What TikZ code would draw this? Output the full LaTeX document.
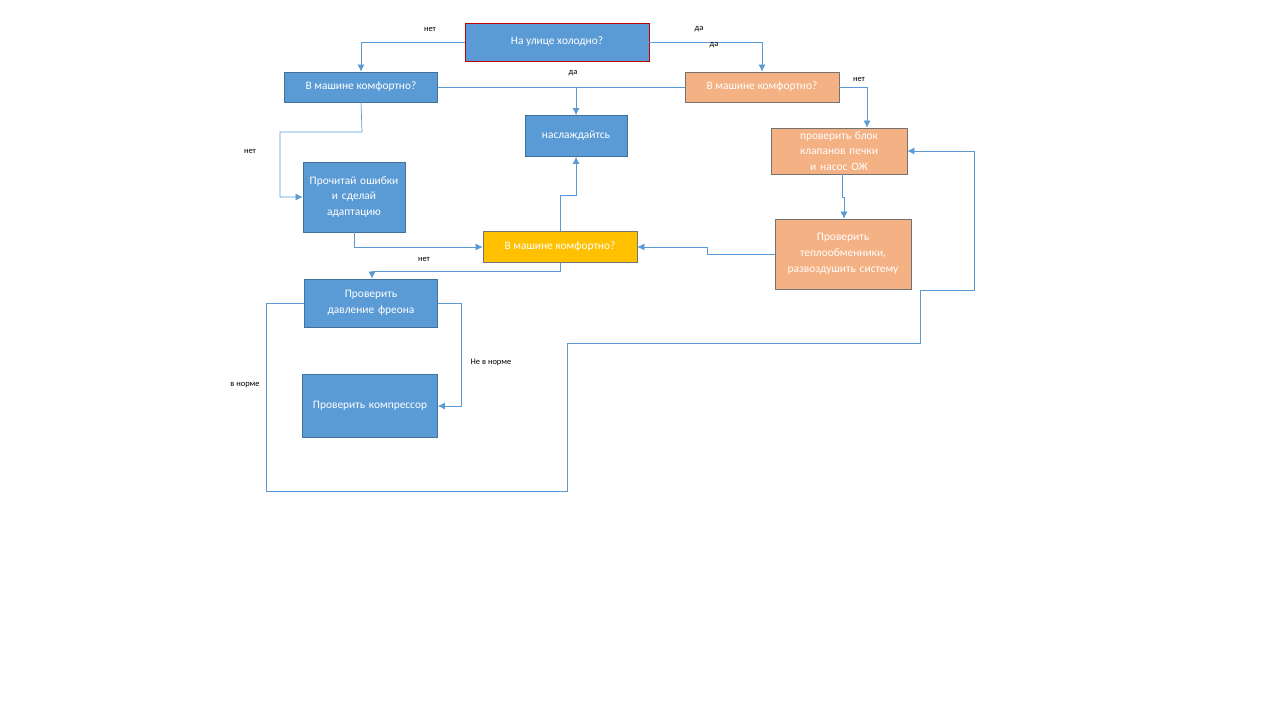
\documentclass[tikz,border=0pt]{standalone}
\usepackage{fontspec}
\setmainfont{Carlito}
\usetikzlibrary{arrows.meta}
\definecolor{boxblue}{HTML}{5B9BD5}
\definecolor{boxorange}{HTML}{F4B183}
\definecolor{boxyellow}{HTML}{FFC000}
\definecolor{lineblue}{HTML}{5B9BD5}
\definecolor{edgeblue}{HTML}{41719C}
\tikzset{
  box/.style={draw=edgeblue,fill=boxblue,text=white,align=center,inner sep=1pt,font=\fontsize{6.5}{9}\selectfont},
  obox/.style={box,fill=boxorange,draw=black!55},
  link/.style={lineblue,thin,-{Latex[length=4pt,width=4pt]}},
  lbl/.style={font=\fontsize{4.8}{6}\selectfont}
}
\begin{document}
\begin{tikzpicture}[x=0.02cm,y=-0.02cm]
\useasboundingbox (0,0) rectangle (1280,720);

% boxes
\node[box,draw=red!75!black,minimum width=184*0.02cm,minimum height=38*0.02cm] (cold) at (557,42) {На улице холодно?};
\node[box,minimum width=153*0.02cm,minimum height=30*0.02cm] (leftq) at (361,87) {В машине комфортно?};
\node[obox,minimum width=154*0.02cm,minimum height=30*0.02cm] (rightq) at (762,87) {В машине комфортно?};
\node[box,minimum width=102*0.02cm,minimum height=41*0.02cm] (enjoy) at (576,136) {наслаждайтсь};
\node[obox,text width=125*0.02cm,minimum width=136*0.02cm,minimum height=46*0.02cm] (valve) at (839,151) {проверить блок клапанов печки и насос ОЖ};
\node[box,text width=95*0.02cm,minimum width=102*0.02cm,minimum height=70*0.02cm] (read) at (354,197) {Прочитай ошибки и сделай адаптацию};
\node[box,fill=boxyellow,draw=black!55,minimum width=154*0.02cm,minimum height=31*0.02cm] (mid) at (560,247) {В машине комфортно?};
\node[obox,text width=125*0.02cm,minimum width=136*0.02cm,minimum height=70*0.02cm] (heat) at (843,254) {Проверить теплообменники, развоздушить систему};
\node[box,text width=125*0.02cm,minimum width=133*0.02cm,minimum height=48*0.02cm] (press) at (371,303) {Проверить давление фреона};
\node[box,text width=125*0.02cm,minimum width=135*0.02cm,minimum height=63*0.02cm] (comp) at (370,406) {Проверить компрессор};

% connectors
\draw[link] (cold.west) -| (leftq.north);
\draw[link] (cold.east) -| (rightq.north);
\draw[lineblue,thin] (leftq.east) -- (rightq.west);
\coordinate (split) at (576,87);
\draw[link] (split) -- (enjoy.north);
\draw[link] (rightq.east) -| (valve.north -| 867,0);
\draw[link] (leftq.south) -- (362,132) -- (280,132) |- (read.west);
\draw[link] (valve.south -| 842,0) -- (842,197) -- (844,197) -- (heat.north -| 844,0);
\draw[link] (heat.west) -- (707,254) -- (707,247) -- (mid.east);
\draw[link] (read.south) |- (mid.west);
\draw[link] (mid.north) -- (560,195) -- (576,195) -- (enjoy.south);
\draw[link] (mid.south) -- (560,271) -- (372,271) -- (press.north -| 372,0);
\draw[link] (press.east) -- (461,303) |- (comp.east);
\draw[link] (press.west) -- (266,303) -- (266,491) -- (567,491) -- (567,343)
  -- (920,343) -- (920,290) -- (974,290) |- (valve.east);

% labels
\node[lbl] at (430,29) {нет};
\node[lbl] at (699,29) {да};
\node[lbl] at (714,45) {да};
\node[lbl] at (573,73) {да};
\node[lbl] at (859,79) {нет};
\node[lbl] at (250,151) {нет};
\node[lbl] at (424,259) {нет};
\node[lbl] at (491,362) {Не в норме};
\node[lbl] at (245,385) {в норме};
\end{tikzpicture}
\end{document}
